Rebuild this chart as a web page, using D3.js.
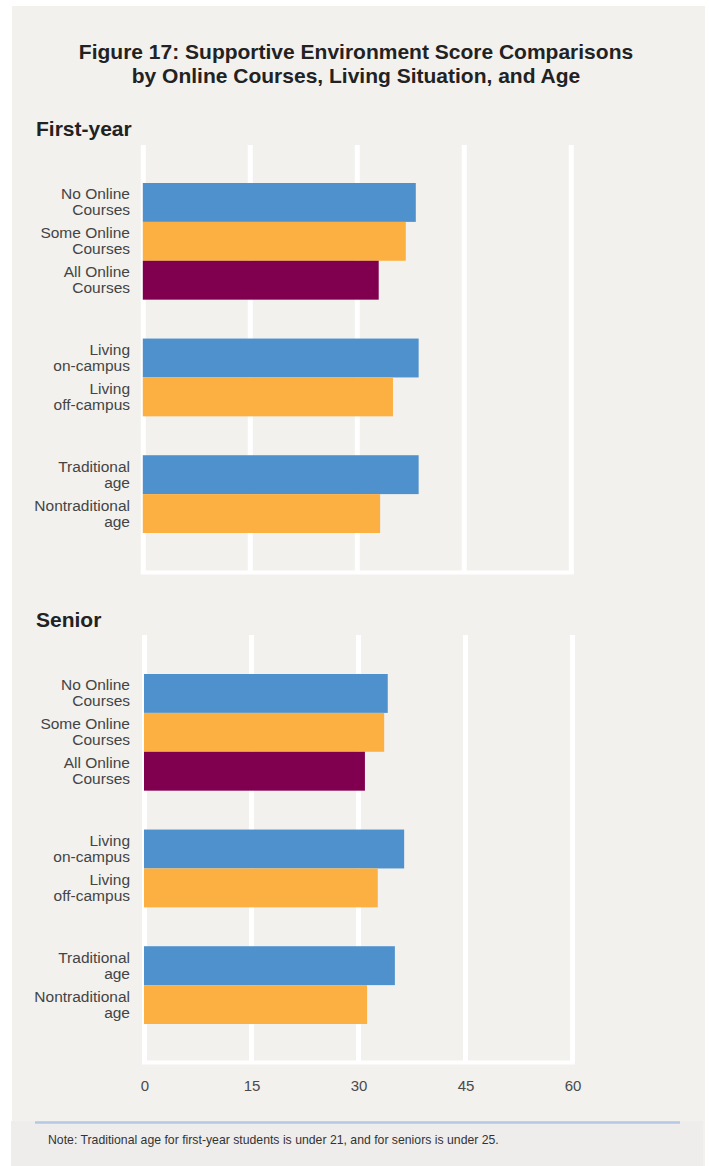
<!DOCTYPE html>
<html>
<head>
<meta charset="utf-8">
<script src="https://cdn.jsdelivr.net/npm/d3@7"></script>
<style>
  html, body { margin: 0; padding: 0; background: #ffffff; }
  svg { display: block; font-family: "Liberation Sans", Arial, Helvetica, sans-serif; }
</style>
</head>
<body>
<svg id="chart" width="709" height="1166"></svg>
<script>
// Categories, shown as two-line labels
const categories = [
  "No Online Courses", "Some Online Courses", "All Online Courses",
  "Living on-campus", "Living off-campus",
  "Traditional age", "Nontraditional age"
];
const labelLines = [
  ["No Online", "Courses"], ["Some Online", "Courses"], ["All Online", "Courses"],
  ["Living", "on-campus"], ["Living", "off-campus"],
  ["Traditional", "age"], ["Nontraditional", "age"]
];
// Which comparison group each category belongs to
const groupIndex = [0, 0, 0, 1, 1, 2, 2];
// Colour role of each bar: 0 = first option, 1 = second, 2 = third
const colorRole = [0, 1, 2, 0, 1, 0, 1];

// Supportive Environment scores
const firstYearScores = [38.2, 36.8, 33.0, 38.6, 35.0, 38.6, 33.2];
const seniorScores    = [34.1, 33.6, 30.9, 36.4, 32.7, 35.1, 31.2];

// Axis ticks
const tickValues = [0, 15, 30, 45, 60];

const palette = ["#4f91cd", "#fdb042", "#80004f"];

const svg = d3.select("#chart");

// Panel background
svg.append("rect").attr("x", 12).attr("y", 6).attr("width", 693).attr("height", 1160)
  .attr("fill", "#f2f1ee");
// Footer band
svg.append("rect").attr("x", 11).attr("y", 1121).attr("width", 692).attr("height", 45)
  .attr("fill", "#eeedeb");
svg.append("line").attr("x1", 35).attr("x2", 680).attr("y1", 1122.5).attr("y2", 1122.5)
  .attr("stroke", "#b4c8e6").attr("stroke-width", 2.5);

// Title
const title = svg.append("text").attr("text-anchor", "middle")
  .attr("font-weight", "bold").attr("font-size", 21).attr("fill", "#222");
title.append("tspan").attr("x", 356).attr("y", 59)
  .text("Figure 17: Supportive Environment Score Comparisons");
title.append("tspan").attr("x", 356).attr("y", 83)
  .text("by Online Courses, Living Situation, and Age");

// Slot positions: categories plus one blank slot between groups
const slotOf = categories.map((c, i) => i + groupIndex[i]);

function drawPanel(opts) {
  const { heading, headingY, values, gridTop, gridBottom, barsTop, barsBottom, x0, showAxis } = opts;

  const x = d3.scaleLinear().domain([0, 60]).range([x0, x0 + 428]);
  const y = d3.scaleBand().domain(d3.range(9)).range([barsTop, barsBottom]).padding(0);

  const g = svg.append("g");

  g.append("text").attr("x", 36).attr("y", headingY)
    .attr("font-weight", "bold").attr("font-size", 21).attr("fill", "#222")
    .text(heading);

  // White gridlines
  g.selectAll("line.grid").data(tickValues).join("line")
    .attr("class", "grid")
    .attr("x1", d => x(d)).attr("x2", d => x(d))
    .attr("y1", gridTop).attr("y2", gridBottom)
    .attr("stroke", "#ffffff").attr("stroke-width", 5);
  g.append("line")
    .attr("x1", x(0) - 2.5).attr("x2", x(60) + 2.5)
    .attr("y1", gridBottom - 1.5).attr("y2", gridBottom - 1.5)
    .attr("stroke", "#ffffff").attr("stroke-width", 4);

  // Bars
  g.selectAll("rect.bar").data(values).join("rect")
    .attr("class", "bar")
    .attr("x", x(0) - 0.5)
    .attr("y", (d, i) => y(slotOf[i]))
    .attr("width", d => x(d) - x(0) + 0.5)
    .attr("height", y.bandwidth())
    .attr("fill", (d, i) => palette[colorRole[i]]);

  // Category labels
  const lab = g.selectAll("text.cat").data(categories).join("text")
    .attr("class", "cat")
    .attr("text-anchor", "end").attr("font-size", 15.5).attr("fill", "#444");
  lab.each(function (d, i) {
    const cy = y(slotOf[i]) + y.bandwidth() / 2;
    const t = d3.select(this);
    labelLines[i].forEach((ln, k) => {
      t.append("tspan").attr("x", 130).attr("y", cy - 3 + k * 16).text(ln);
    });
  });

  if (showAxis) {
    const axis = d3.axisBottom(x).tickValues(tickValues).tickSize(0).tickPadding(0);
    const ag = g.append("g").attr("transform", `translate(0, ${gridBottom + 16})`).call(axis);
    ag.select(".domain").remove();
    ag.selectAll("text").attr("font-size", 15).attr("fill", "#4a4a4a")
      .attr("font-family", "Liberation Sans, Arial, sans-serif");
  }
}

drawPanel({
  heading: "First-year", headingY: 136, values: firstYearScores,
  gridTop: 145, gridBottom: 574, barsTop: 183, barsBottom: 533,
  x0: 143.3, showAxis: false
});

drawPanel({
  heading: "Senior", headingY: 627, values: seniorScores,
  gridTop: 635, gridBottom: 1064, barsTop: 674, barsBottom: 1024,
  x0: 144.5, showAxis: true
});

// Note
svg.append("text").attr("x", 48).attr("y", 1144)
  .attr("font-size", 12.25).attr("fill", "#333")
  .text("Note: Traditional age for first-year students is under 21, and for seniors is under 25.");
</script>
</body>
</html>
